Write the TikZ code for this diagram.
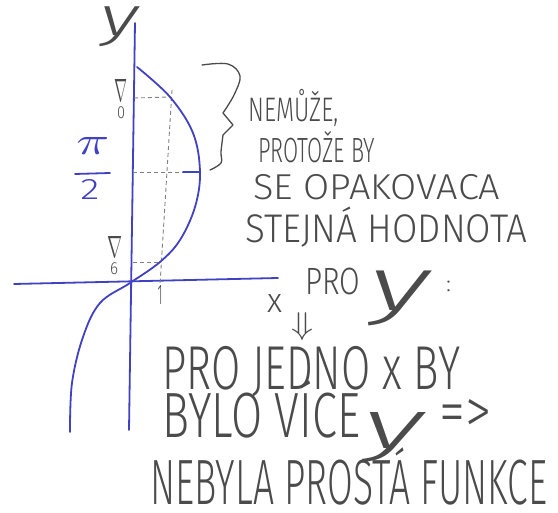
\documentclass[tikz,border=0pt]{standalone}
\usepackage{fontspec}
\setmainfont{Liberation Sans}
\IfFontExistsTF{Fira Sans Light}
  {\newfontfamily\hand{Fira Sans Light}}
  {\newfontfamily\hand{Liberation Sans}}
\IfFontExistsTF{Fira Sans Light Italic}
  {\newfontfamily\handit{Fira Sans Light Italic}\newcommand{\yglyph}{{\handit y}}}
  {\newcommand{\yglyph}{$y$}}
\usepackage{graphicx}
\definecolor{ink}{RGB}{65,65,195}
\definecolor{pencil}{RGB}{75,75,75}
\newcommand{\hw}[3]{{\hand\fontsize{#2}{#2}\selectfont\resizebox{#1}{\height}{#3}}}
\tikzset{
  txt/.style={pencil, anchor=base west, inner sep=0pt},
  sym/.style={pencil, inner sep=0pt},
  blueline/.style={ink, line width=1.8pt, line cap=round},
  guide/.style={pencil!70, line width=0.9pt, dash pattern=on 4pt off 3pt},
  pencilline/.style={pencil, line width=1.3pt, line cap=round, line join=round}
}
\begin{document}
\begin{tikzpicture}[x=1pt,y=-1pt]
\useasboundingbox (0,0) rectangle (558,513);
% axes
\coordinate (yt) at (135,23);
\coordinate (yb) at (129,430);
\coordinate (xl) at (14,284);
\coordinate (xr) at (278,278);
\draw[blueline] (yt) -- (yb);
\draw[blueline] (xl) -- (xr);
% guide lines
\coordinate (g1a) at (134,98);
\coordinate (g1b) at (170,97);
\coordinate (gv1) at (172,90);
\coordinate (gv2) at (160,285);
\coordinate (g2a) at (133,172);
\coordinate (g2b) at (183,172);
\coordinate (g3a) at (133,262);
\coordinate (g3b) at (160,262);
\draw[guide] (g1a) -- (g1b);
\draw[guide] (gv1) -- (gv2);
\draw[guide] (g2a) -- (g2b);
\draw[guide] (g3a) -- (g3b);
% curve
\draw[blueline] plot[smooth, tension=0.6] coordinates {(137,67) (170,97) (193,133) (200,172) (195,207) (180,240) (160,262) (130,283) (100,303) (83,337) (72,383) (70,432)};
% pi/2 tick
\coordinate (t1) at (183,172);
\coordinate (t2) at (200,172);
\draw[blueline] (t1) -- (t2);
% tick 1
\node[sym] (one) at (160,295) {\resizebox*{5pt}{19pt}{\hand\fontsize{20}{20}\selectfont 1}};
% pi/2 label
\node[ink, inner sep=0pt] (pi) at (93,146) {\resizebox*{33pt}{17pt}{$\pi$}};
\coordinate (fb1) at (75,174);
\coordinate (fb2) at (110,173);
\draw[blueline] (fb1) -- (fb2);
\node[ink, inner sep=0pt] (two) at (90,190) {\resizebox*{19pt}{20pt}{\hand 2}};
% grey labels on y axis
\node[sym] (n1) at (121,91) {\resizebox*{13pt}{22pt}{$\nabla$}};
\node[sym] (o1) at (121,113) {\resizebox*{8pt}{12pt}{\hand 0}};
\node[sym] (n2) at (115,247) {\resizebox*{15pt}{21pt}{$\nabla$}};
\node[sym] (o2) at (114,269) {\resizebox*{8pt}{12pt}{\hand 6}};
% y axis label
\node[sym] (ylab) at (120,27) {\resizebox*{38pt}{40pt}{\yglyph}};
% x axis label
\node[sym] (xlab) at (275,303) {\resizebox*{15pt}{18pt}{\hand x}};
% brace
\draw[pencilline] plot[smooth, tension=0.6] coordinates {(202,65) (228,64) (240,76) (234,95) (223,113)} -- (233,125) -- plot[smooth, tension=0.6] coordinates {(223,135) (221,152) (221,163) (210,170)};
% text
\node[txt] (l1) at (248,122) {\hw{90pt}{34}{NEMŮŽE,}};
\node[txt] (l2) at (258,163) {\hw{117pt}{35}{PROTOŽE BY}};
\node[txt] (l3) at (253,200) {\hw{247pt}{36}{SE OPAKOVACA}};
\node[txt] (l4) at (245,243) {\hw{282pt}{40}{STEJNÁ HODNOTA}};
\node[txt] (l5) at (305,295) {\hw{55pt}{38}{PRO}};
\node[sym] (l5y) at (400,298) {\resizebox*{60pt}{55pt}{\yglyph}};
\node[txt] (l5c) at (446,292) {\hw{5pt}{22}{:}};
\node[sym] (dn) at (303,327) {\resizebox*{22pt}{28pt}{$\Downarrow$}};
\node[txt] (l6) at (162,390) {\hw{298pt}{62}{PRO JEDNO x BY}};
\node[txt] (l7) at (162,438) {\hw{198pt}{64}{BYLO VÍCE}};
\node[sym] (l7y) at (394,438) {\resizebox*{60pt}{50pt}{\yglyph}};
\node[sym] (l7a) at (466,416) {\resizebox*{52pt}{34pt}{\hand =>}};
\node[txt] (l8) at (150,505) {\hw{397pt}{64}{NEBYLA PROSTÁ FUNKCE}};
\end{tikzpicture}
\end{document}
